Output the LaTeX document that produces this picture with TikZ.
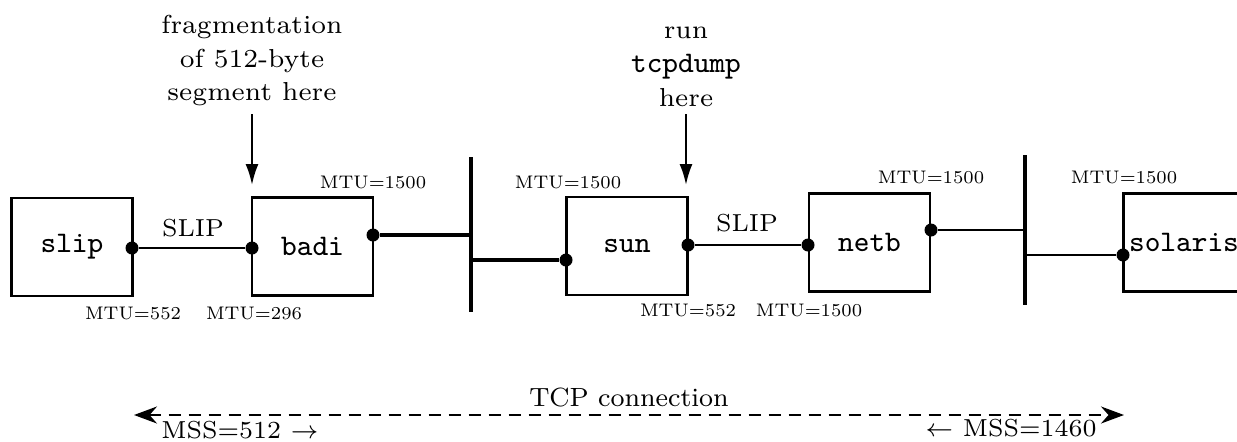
\documentclass[tikz,border=0pt]{standalone}
\usepackage{tikz}
\usepackage{graphicx}
\usetikzlibrary{arrows.meta,positioning}

\newcommand{\mtulabel}[1]{\scalebox{0.74}{MTU=#1}}

\begin{document}
\begin{tikzpicture}[
  x=0.1mm, y=-0.1mm,
  host/.style={
    rectangle, draw, line width=0.6pt,
    minimum width=12.1mm, minimum height=9.8mm, inner sep=0pt,
    font=\fontsize{8.5}{10}\selectfont\ttfamily
  },
  dot/.style={circle, fill, inner sep=0pt, minimum size=1.3mm},
  link/.style={line width=0.8pt},
  thick link/.style={line width=1.1pt},
  thin link/.style={line width=0.6pt},
  bus/.style={line width=1.4pt},
  mtu/.style={font=\fontsize{7}{8}\selectfont, inner sep=0pt},
  lbl/.style={font=\fontsize{7}{8}\selectfont, inner sep=0pt},
  note/.style={font=\fontsize{7.4}{9.6}\selectfont, align=center, inner sep=2pt},
  down/.style={-{Latex[length=2.1mm,width=1.3mm]}, line width=0.6pt},
  tcp/.style={{Stealth[length=2.3mm,width=1.7mm]}-{Stealth[length=2.3mm,width=1.7mm]},
    line width=0.6pt, dash pattern=on 1.2mm off 0.8mm},
]

\useasboundingbox (0,0) rectangle (1237,441);
\clip (0,0) rectangle (1237,441);

% === Hosts ===
\node[host] (slip) at (72,247) {slip};
\node[host] (badi) at (312.5,246.5) {badi};
\node[host] (sun) at (627,246) {sun};
\node[host] (netb) at (869.5,242.5) {netb};
\node[host] (solaris) at (1184,242.5) {solaris};

% === Interfaces ===
\node[dot] (slipE) at (132,248) {};
\node[dot] (badiW) at (252,248) {};
\node[dot] (badiE) at (373,235) {};
\node[dot] (sunW) at (566,260) {};
\node[dot] (sunE) at (688,245) {};
\node[dot] (netbW) at (808,245) {};
\node[dot] (netbE) at (931,230) {};
\node[dot] (solW) at (1123,255) {};

% === Ethernets ===
\coordinate (bus1) at (471,157);
\coordinate (bus1end) at (471,312);
\draw[bus] (bus1) -- (bus1end);
\coordinate (bus2) at (1025,155);
\coordinate (bus2end) at (1025,305);
\draw[bus] (bus2) -- (bus2end);

% === Links ===
\draw[link] (slipE) -- (badiW);
\node[lbl] (slip1) at (193,228) {SLIP};
\draw[thick link] (badiE) -- (badiE -| bus1);
\draw[thick link] (sunW -| bus1) -- (sunW);
\draw[link] (sunE) -- (netbW);
\node[lbl] (slip2) at (747,223) {SLIP};
\draw[thin link] (netbE) -- (netbE -| bus2);
\draw[thin link] (solW -| bus2) -- (solW);

% === MTUs ===
\node[mtu] (mtu1) at (133,313) {\mtulabel{552}};
\node[mtu] (mtu2) at (254,313) {\mtulabel{296}};
\node[mtu] (mtu3) at (373,182) {\mtulabel{1500}};
\node[mtu] (mtu4) at (568,182) {\mtulabel{1500}};
\node[mtu] (mtu5) at (688,310) {\mtulabel{552}};
\node[mtu] (mtu6) at (809,310) {\mtulabel{1500}};
\node[mtu] (mtu7) at (931,177) {\mtulabel{1500}};
\node[mtu] (mtu8) at (1124,177) {\mtulabel{1500}};

% === Notes ===
\node[note, anchor=south] (frag) at (252,114) {fragmentation\\of 512-byte\\segment here};
\coordinate (fragtip) at (252,185);
\draw[down] (frag.south) -- (fragtip);
\node[note, anchor=south] (dump) at (686,114)
  {run\\{\fontsize{8.5}{9.6}\selectfont\ttfamily tcpdump}\\here};
\coordinate (dumptip) at (686,185);
\draw[down] (dump.south) -- (dumptip);

% === TCP connection ===
\coordinate (tcpL) at (134,415);
\coordinate (tcpR) at (1124,415);
\draw[tcp] (tcpL) -- (tcpR);
\node[lbl, font=\fontsize{7.5}{9}\selectfont] (conn) at (629,397) {TCP connection};
\node[lbl] (mssL) at (240,430) {MSS=512 $\rightarrow$};
\node[lbl] (mssR) at (1011,428) {$\leftarrow$ MSS=1460};

\end{tikzpicture}
\end{document}
